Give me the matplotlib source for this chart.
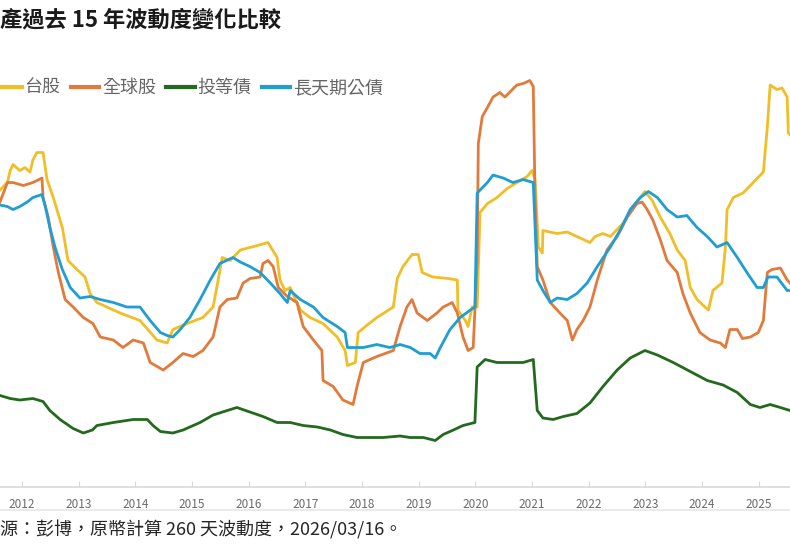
import matplotlib
matplotlib.use("Agg")
import matplotlib.pyplot as plt
from matplotlib.lines import Line2D

plt.rcParams['font.family'] = ['Noto Sans CJK TC', 'DejaVu Sans']

# 260-day volatility readings (year, %)
tw_t = [2011.61, 2011.74, 2011.79, 2011.84, 2011.96, 2012.05, 2012.14, 2012.19, 2012.26, 2012.37,
        2012.44, 2012.55, 2012.71, 2012.81, 2012.97, 2013.11, 2013.20, 2013.32, 2013.73, 2014.08,
        2014.38, 2014.56, 2014.66, 2014.91, 2015.19, 2015.37, 2015.46, 2015.53, 2015.67, 2015.85,
        2016.15, 2016.34, 2016.50, 2016.55, 2016.64, 2016.73, 2016.91, 2017.08, 2017.31, 2017.56,
        2017.70, 2017.74, 2017.88, 2017.93, 2018.09, 2018.26, 2018.55, 2018.62, 2018.72, 2018.88,
        2018.99, 2019.06, 2019.25, 2019.52, 2019.68, 2019.69, 2019.82, 2019.87, 2019.94, 2020.03,
        2020.08, 2020.21, 2020.38, 2020.56, 2020.73, 2020.91, 2021.00, 2021.05, 2021.11, 2021.18,
        2021.19, 2021.44, 2021.62, 2021.79, 2022.02, 2022.11, 2022.25, 2022.38, 2022.61, 2022.78,
        2022.99, 2023.12, 2023.26, 2023.43, 2023.56, 2023.70, 2023.79, 2023.91, 2024.05, 2024.11,
        2024.19, 2024.35, 2024.41, 2024.44, 2024.55, 2024.72, 2024.90, 2025.08, 2025.15, 2025.20,
        2025.32, 2025.41, 2025.50, 2025.52, 2025.55]
tw_v = [19.8, 20.3, 21.1, 21.5, 21.1, 21.3, 21.0, 21.8, 22.3, 22.3,
        20.5, 19.3, 17.3, 15.1, 14.5, 14.0, 12.9, 12.3, 11.6, 11.1,
        9.8, 9.6, 10.5, 10.9, 11.3, 12.0, 13.8, 15.3, 15.1, 15.8,
        16.1, 16.3, 15.3, 13.8, 13.1, 13.3, 11.8, 11.3, 10.9, 10.0,
        9.1, 8.1, 8.3, 10.3, 10.8, 11.3, 12.0, 13.9, 14.7, 15.5,
        15.5, 14.3, 14.0, 13.9, 13.8, 11.8, 11.1, 10.7, 12.0, 12.0,
        18.3, 18.9, 19.3, 19.9, 20.3, 20.7, 21.1, 20.5, 16.0, 15.6,
        17.1, 16.9, 17.0, 16.7, 16.3, 16.7, 16.9, 16.7, 17.6, 18.7,
        19.7, 19.1, 18.0, 16.9, 15.8, 15.1, 13.3, 12.5, 12.0, 11.8,
        13.1, 13.6, 16.0, 18.5, 19.3, 19.6, 20.3, 21.0, 24.0, 26.8,
        26.5, 26.6, 26.0, 23.6, 23.5]

gl_t = [2011.61, 2011.74, 2011.84, 2012.02, 2012.19, 2012.35, 2012.37, 2012.46, 2012.55, 2012.64,
        2012.76, 2012.90, 2013.08, 2013.25, 2013.38, 2013.61, 2013.78, 2013.96, 2014.14, 2014.26,
        2014.49, 2014.66, 2014.84, 2015.02, 2015.19, 2015.37, 2015.49, 2015.62, 2015.79, 2015.90,
        2016.02, 2016.20, 2016.25, 2016.34, 2016.43, 2016.52, 2016.68, 2016.85, 2016.96, 2017.14,
        2017.29, 2017.31, 2017.49, 2017.66, 2017.84, 2017.91, 2018.02, 2018.26, 2018.55, 2018.67,
        2018.79, 2018.88, 2018.97, 2019.15, 2019.32, 2019.43, 2019.59, 2019.68, 2019.78, 2019.87,
        2019.96, 2020.03, 2020.05, 2020.12, 2020.21, 2020.31, 2020.43, 2020.52, 2020.65, 2020.73,
        2020.84, 2020.96, 2021.02, 2021.05, 2021.09, 2021.19, 2021.32, 2021.49, 2021.62, 2021.71,
        2021.79, 2021.90, 2022.02, 2022.15, 2022.32, 2022.50, 2022.68, 2022.85, 2022.94, 2023.03,
        2023.13, 2023.26, 2023.38, 2023.56, 2023.66, 2023.79, 2023.96, 2024.14, 2024.32, 2024.41,
        2024.49, 2024.62, 2024.71, 2024.85, 2024.99, 2025.08, 2025.15, 2025.23, 2025.38, 2025.50,
        2025.55]
gl_v = [19.0, 20.3, 20.3, 20.1, 20.3, 20.6, 19.3, 18.0, 16.0, 14.3,
        12.5, 12.0, 11.3, 10.9, 10.0, 9.8, 9.3, 9.8, 9.6, 8.3,
        7.8, 8.3, 8.9, 8.7, 9.1, 10.0, 12.0, 12.5, 12.6, 13.6,
        13.9, 14.0, 14.9, 15.1, 14.7, 13.3, 12.7, 12.3, 10.7, 9.8,
        9.1, 7.1, 6.7, 5.8, 5.5, 6.7, 8.3, 8.7, 9.1, 10.7,
        12.0, 12.5, 11.6, 11.1, 11.6, 12.0, 12.3, 11.6, 10.0, 9.1,
        9.3, 15.1, 22.9, 24.7, 25.3, 26.0, 26.3, 26.0, 26.5, 26.8,
        26.9, 27.1, 26.7, 19.6, 14.7, 13.8, 12.3, 11.6, 11.1, 9.8,
        10.5, 11.1, 12.0, 13.8, 15.8, 16.7, 18.0, 18.9, 19.0, 18.5,
        17.8, 16.5, 15.1, 14.3, 12.9, 11.6, 10.3, 9.8, 9.6, 9.3,
        10.5, 10.5, 9.9, 10.0, 10.3, 11.1, 14.3, 14.5, 14.6, 13.8,
        13.6]

ig_t = [2011.61, 2011.79, 2011.96, 2012.19, 2012.37, 2012.49, 2012.67, 2012.90, 2013.08, 2013.24,
        2013.32, 2013.61, 2013.96, 2014.21, 2014.31, 2014.44, 2014.66, 2014.84, 2015.02, 2015.14,
        2015.37, 2015.62, 2015.79, 2016.02, 2016.25, 2016.50, 2016.73, 2016.96, 2017.21, 2017.44,
        2017.66, 2017.91, 2018.14, 2018.37, 2018.67, 2018.85, 2019.08, 2019.29, 2019.43, 2019.61,
        2019.78, 2019.99, 2020.03, 2020.17, 2020.38, 2020.61, 2020.84, 2021.02, 2021.09, 2021.19,
        2021.37, 2021.55, 2021.79, 2022.02, 2022.25, 2022.50, 2022.73, 2022.99, 2023.21, 2023.49,
        2023.79, 2024.09, 2024.37, 2024.62, 2024.85, 2025.02, 2025.20, 2025.38, 2025.55]
ig_v = [6.1, 5.9, 5.8, 5.9, 5.7, 5.1, 4.5, 3.9, 3.6, 3.8,
        4.1, 4.3, 4.5, 4.5, 4.1, 3.7, 3.6, 3.8, 4.1, 4.3,
        4.8, 5.1, 5.3, 5.0, 4.7, 4.3, 4.3, 4.1, 4.0, 3.8,
        3.5, 3.3, 3.3, 3.3, 3.4, 3.3, 3.3, 3.1, 3.5, 3.8,
        4.1, 4.3, 8.0, 8.5, 8.3, 8.3, 8.3, 8.5, 5.1, 4.6,
        4.5, 4.7, 4.9, 5.6, 6.7, 7.8, 8.6, 9.1, 8.8, 8.3,
        7.7, 7.1, 6.8, 6.3, 5.5, 5.3, 5.5, 5.3, 5.1]

lt_t = [2011.61, 2011.74, 2011.84, 2011.96, 2012.09, 2012.19, 2012.35, 2012.41, 2012.49, 2012.58,
        2012.71, 2012.85, 2013.02, 2013.20, 2013.38, 2013.61, 2013.85, 2014.08, 2014.26, 2014.44,
        2014.56, 2014.66, 2014.79, 2014.96, 2015.14, 2015.32, 2015.49, 2015.72, 2015.85, 2016.02,
        2016.20, 2016.38, 2016.55, 2016.68, 2016.73, 2016.91, 2017.14, 2017.31, 2017.56, 2017.70,
        2017.74, 2018.02, 2018.26, 2018.49, 2018.67, 2018.85, 2019.02, 2019.20, 2019.29, 2019.38,
        2019.55, 2019.73, 2019.91, 2019.99, 2020.03, 2020.21, 2020.31, 2020.49, 2020.66, 2020.84,
        2021.02, 2021.09, 2021.19, 2021.32, 2021.44, 2021.62, 2021.79, 2021.97, 2022.15, 2022.38,
        2022.55, 2022.73, 2022.91, 2023.05, 2023.21, 2023.38, 2023.56, 2023.73, 2023.91, 2024.09,
        2024.26, 2024.44, 2024.62, 2024.79, 2024.97, 2025.08, 2025.16, 2025.32, 2025.50, 2025.55]
lt_v = [18.8, 18.7, 18.5, 18.7, 19.0, 19.3, 19.5, 18.7, 17.3, 16.0,
        14.5, 13.3, 12.6, 12.7, 12.5, 12.3, 12.0, 12.0, 11.1, 10.3,
        10.1, 10.0, 10.5, 11.3, 12.5, 13.8, 14.9, 15.3, 15.0, 14.7,
        14.3, 13.6, 12.9, 12.3, 13.1, 12.5, 12.0, 11.3, 10.7, 10.3,
        9.3, 9.3, 9.5, 9.3, 9.5, 9.3, 8.9, 8.9, 8.6, 9.3,
        10.5, 11.3, 11.8, 12.0, 19.6, 20.3, 20.8, 20.6, 20.3, 20.5,
        20.3, 13.8, 13.1, 12.3, 12.6, 12.5, 12.9, 13.6, 14.7, 16.0,
        17.1, 18.5, 19.3, 19.7, 19.3, 18.5, 18.0, 18.1, 17.3, 16.7,
        16.0, 16.3, 15.3, 14.3, 13.3, 13.3, 14.0, 14.0, 13.1, 13.1]

years = list(range(2012, 2026))

series = [
    ("台股", tw_t, tw_v, "#F1BE27"),
    ("全球股", gl_t, gl_v, "#E27A3C"),
    ("投等債", ig_t, ig_v, "#236A1E"),
    ("長天期公債", lt_t, lt_v, "#1F9ED3"),
]

fig = plt.figure(figsize=(7.9, 5.5), dpi=100)
ax = fig.add_axes([0.0, 1 - 487 / 550, 1.0, (487 - 60) / 550])

for name, t, v, c in series:
    ax.plot(t, v, color=c, lw=2.0, label=name, solid_joinstyle="round")

ax.set_xlim(2011.61, 2025.55)
ax.set_ylim(0, 28.47)
ax.set_yticks([])
for s in ["top", "left", "right"]:
    ax.spines[s].set_visible(False)
ax.spines["bottom"].set_color("#d9d9d9")
ax.spines["bottom"].set_linewidth(1.2)
ax.set_xticks(years)
ax.set_xticklabels([str(y) for y in years])
ax.tick_params(axis="x", direction="in", length=4, color="#d9d9d9",
               labelsize=8.5, labelcolor="#6b6b6b", pad=8)

# faint frame line under the year labels
fig.add_artist(Line2D([0, 1], [1 - 510 / 550] * 2, color="#e6e6e6", lw=1.2))

fig.text(0.0, 1 - 20 / 550, "產過去 15 年波動度變化比較", fontsize=16,
         fontweight="bold", color="#1a1a1a", ha="left", va="center")

leg = fig.legend(loc="center left", bbox_to_anchor=(-7 / 790, 1 - 88 / 550),
                 ncol=4, frameon=False, fontsize=13, handlelength=1.6,
                 handletextpad=0.15, columnspacing=0.55, borderpad=0,
                 borderaxespad=0)
for txt in leg.get_texts():
    txt.set_color("#666666")
for h in leg.get_lines():
    h.set_linewidth(3)

fig.text(0.0, 1 - 530 / 550, "源：彭博，原幣計算 260 天波動度，2026/03/16。",
         fontsize=13, color="#262626", ha="left", va="center")

fig.savefig("out.png", dpi=100)
